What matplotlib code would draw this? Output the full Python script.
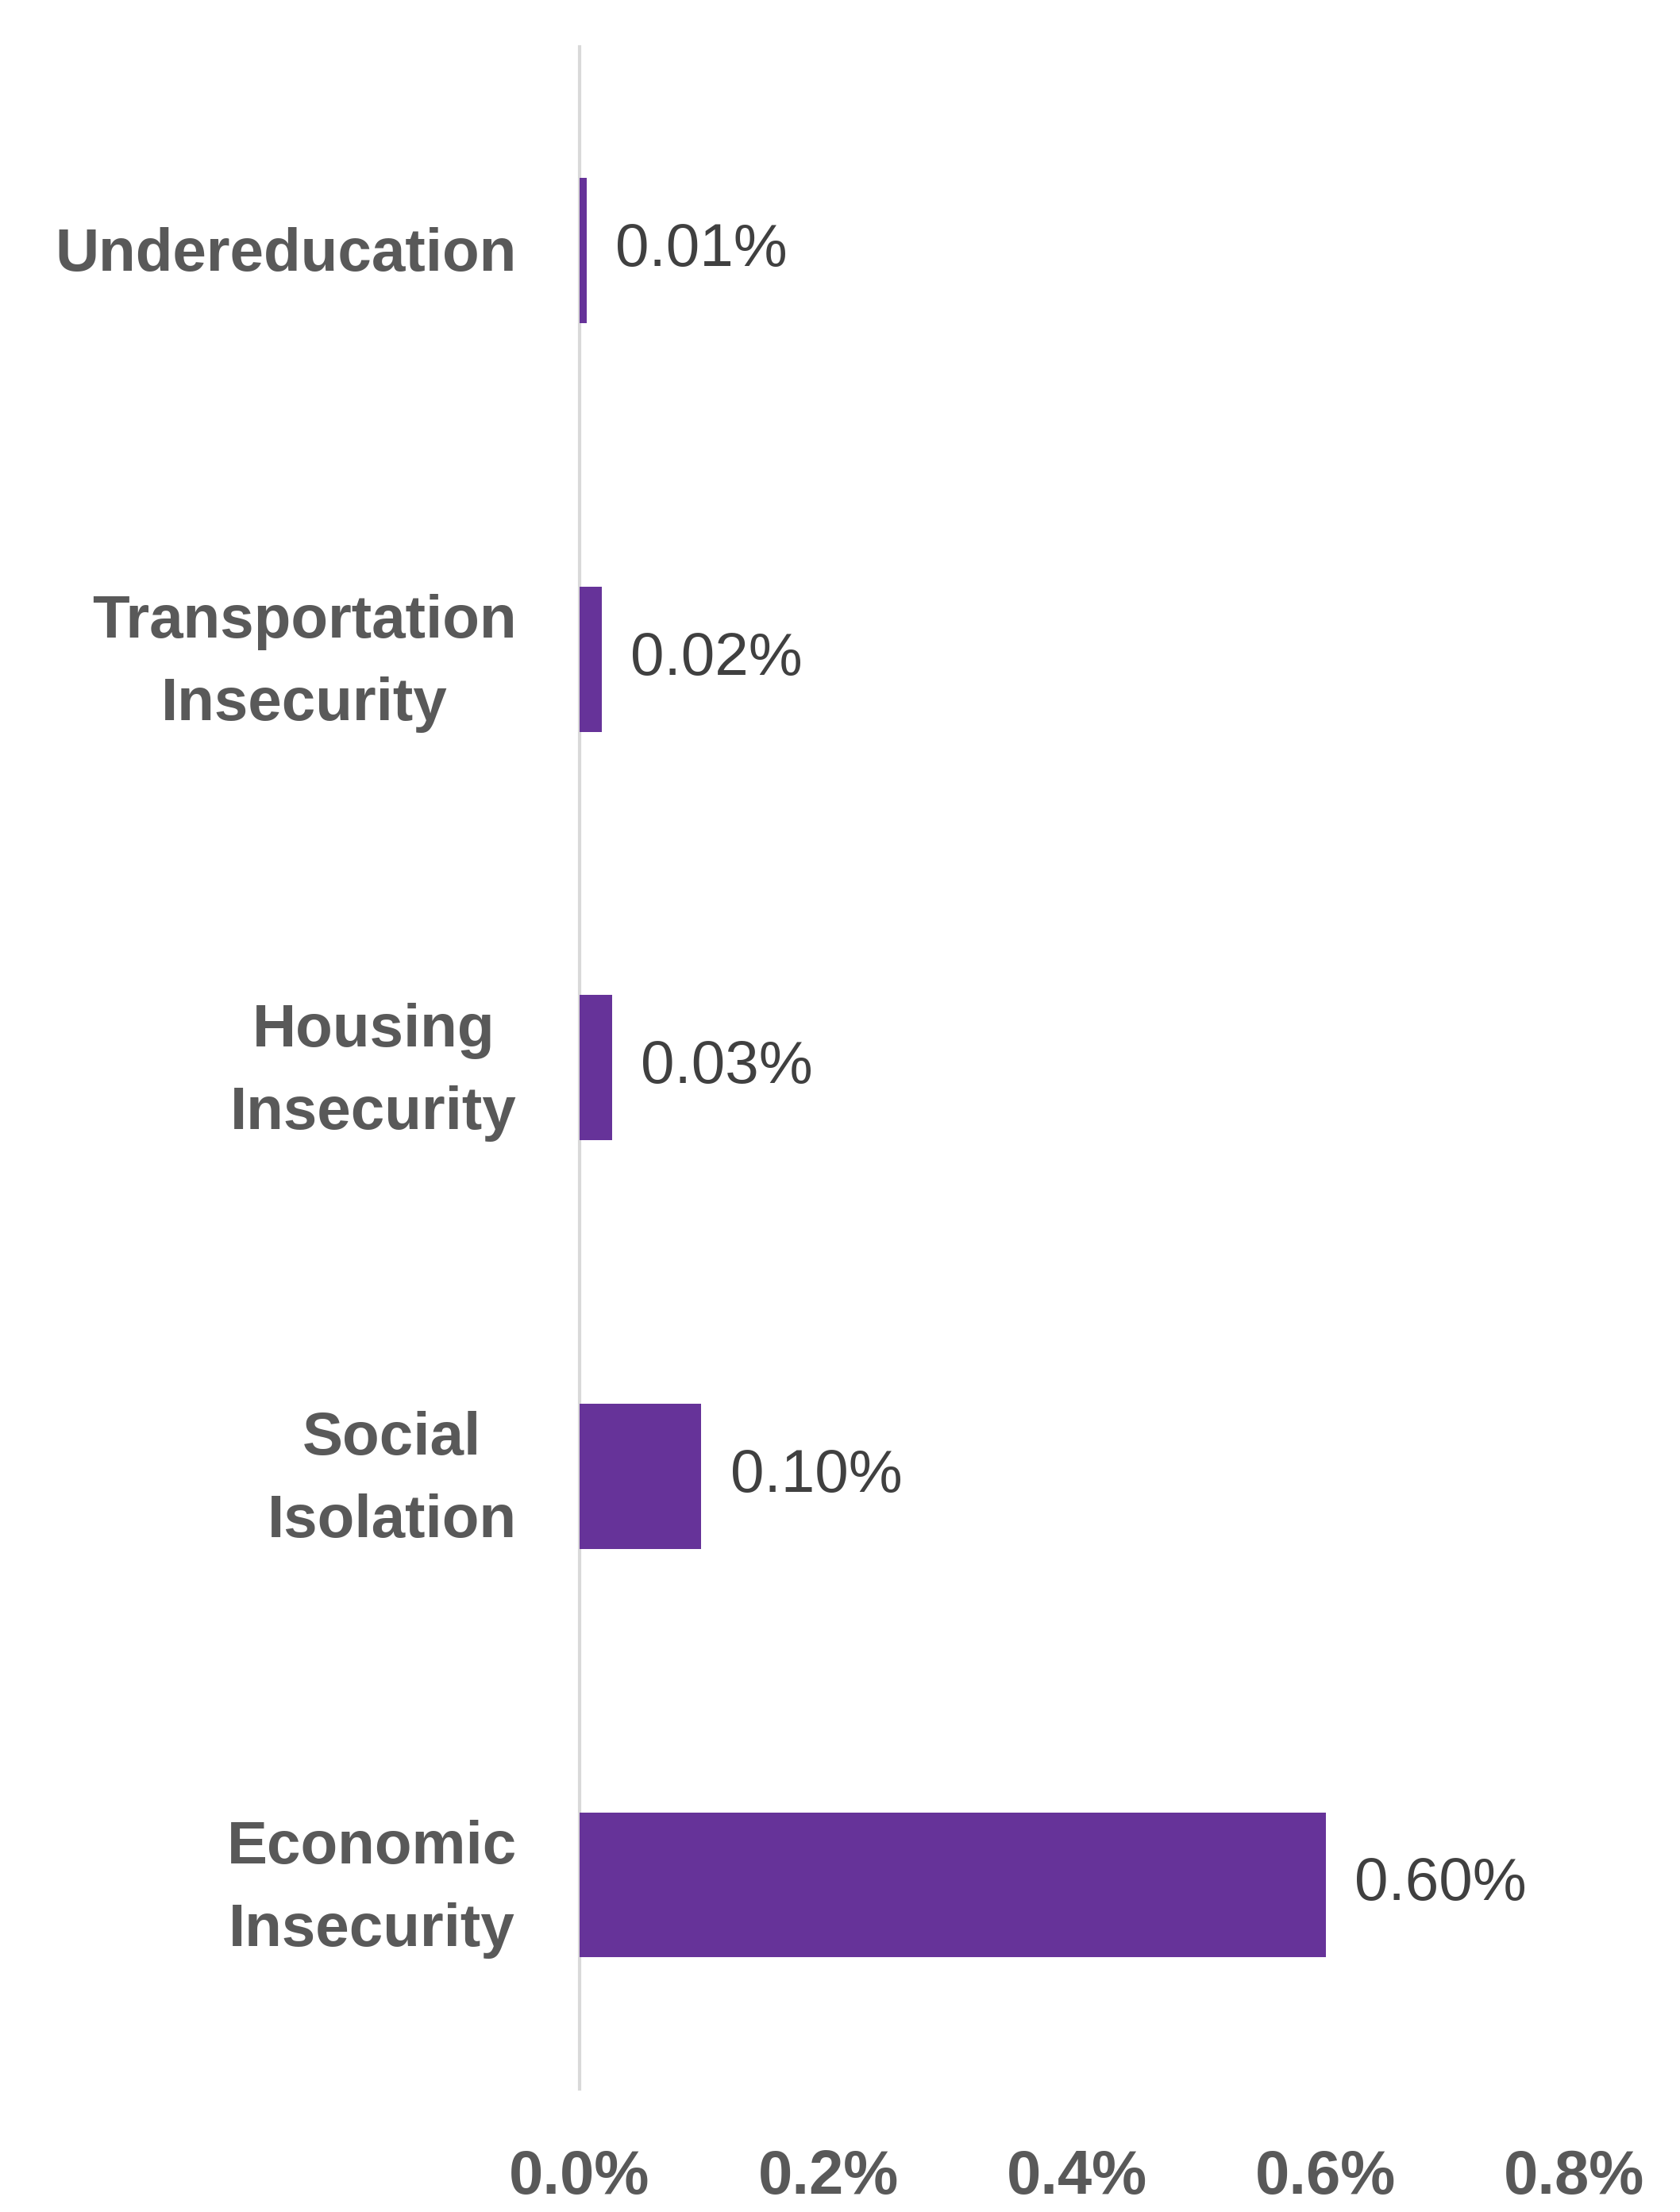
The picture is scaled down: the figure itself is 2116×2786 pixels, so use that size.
import matplotlib.pyplot as plt
import matplotlib.transforms as mtransforms
from matplotlib.ticker import FuncFormatter

# data (percent)
categories = ['Undereducation', 'Transportation\nInsecurity', 'Housing\nInsecurity',
              'Social\nIsolation', 'Economic\nInsecurity']
values = [0.0055, 0.018, 0.026, 0.098, 0.60]
xticks = [0.0, 0.2, 0.4, 0.6, 0.8]

purple = '#663399'
grey = '#595959'
plt.rcParams['font.family'] = ['Liberation Sans', 'DejaVu Sans']

fig = plt.figure(figsize=(21.16, 27.86), dpi=100)
ax = fig.add_axes([0.345, 0.0556, 0.592, 0.9234])

ypos = list(range(len(categories)))
ax.barh(ypos, values, height=0.355, color=purple, zorder=2)

ax.set_xlim(0, 0.8)
ax.set_ylim(len(categories) - 0.5, -0.5)
ax.set_yticks(ypos)
ax.set_yticklabels([])
ax.set_xticks(xticks)
ax.xaxis.set_major_formatter(FuncFormatter(lambda v, p: f'{v:.1f}%'))

# category labels as text next to the axis
lab_tr = ax.get_yaxis_transform() + mtransforms.ScaledTranslation(-57 / 72, -4 / 72, fig.dpi_scale_trans)
for y, name in zip(ypos, categories):
    ax.text(0, y, name, transform=lab_tr, ha='right', va='center', multialignment='center',
            linespacing=1.6, fontsize=55, fontweight='bold', color=grey)

for lab in ax.get_xticklabels():
    lab.set_fontsize(56)
    lab.set_fontweight('bold')
    lab.set_color(grey)

ax.tick_params(axis='y', length=0)
ax.tick_params(axis='x', length=0, pad=54)

for s in ['top', 'right', 'bottom']:
    ax.spines[s].set_visible(False)
ax.spines['left'].set_color('#d9d9d9')
ax.spines['left'].set_linewidth(3)
ax.spines['left'].set_zorder(1)

for y, v in zip(ypos, values):
    ax.annotate(f'{v:.2f}%', (v, y), xytext=(26, 0), textcoords='offset points',
                ha='left', va='center', fontsize=55, color='#404040')

plt.savefig('out.png', dpi=100)
